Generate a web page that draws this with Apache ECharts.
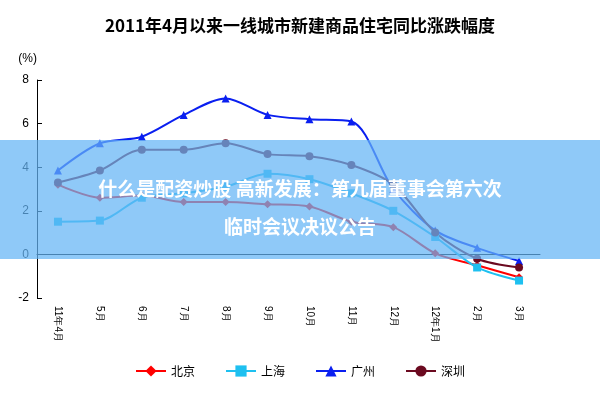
<!DOCTYPE html><html><head><meta charset="utf-8"><script src="https://cdn.jsdelivr.net/npm/echarts@6/dist/echarts.min.js"></script></head><body style="margin:0"><div id="c" style="width:600px;height:400px"></div><script>
var categories=['11年4月','5月','6月','7月','8月','9月','10月','11月','12月','12年1月','2月','3月'];
var beijing=[3.2,2.6,2.7,2.4,2.4,2.3,2.2,1.5,1.25,0.05,-0.5,-1.05];
var shanghai=[1.5,1.55,2.6,2.8,3.1,3.7,3.45,2.8,2.0,0.8,-0.6,-1.2];
var guangzhou=[3.85,5.1,5.4,6.4,7.15,6.4,6.2,6.1,3.0,1.1,0.3,-0.3];
var shenzhen=[3.3,3.85,4.8,4.8,5.1,4.6,4.5,4.1,3.2,1.0,-0.2,-0.6];
var yTicks=[-2,0,2,4,6,8];
function s(n,d,c,sym){return{name:n,type:'line',smooth:0.3,data:d,symbol:sym,symbolSize:8,lineStyle:{color:c,width:2},itemStyle:{color:c}};}
var ch=echarts.init(document.getElementById('c'));
ch.setOption({backgroundColor:'#fff',animation:false,
title:{text:'2011年4月以来一线城市新建商品住宅同比涨跌幅度',left:'center',top:12,textStyle:{fontSize:17,fontWeight:'bold',color:'#000',fontFamily:'Noto Sans CJK SC'}},
grid:{left:37,right:60,top:80,bottom:102},
legend:{bottom:18,itemGap:30,itemWidth:30,textStyle:{fontSize:12,color:'#000',fontFamily:'Noto Sans CJK SC'},data:['北京','上海','广州','深圳']},
xAxis:{type:'category',data:categories,axisLine:{onZero:true,lineStyle:{color:'#000'}},axisTick:{inside:false},axisLabel:{rotate:-90,color:'#000',fontSize:10,margin:8,interval:0}},
yAxis:{type:'value',min:yTicks[0],max:yTicks[yTicks.length-1],interval:2,name:'(%)',nameTextStyle:{color:'#000',align:'right'},axisLine:{show:true,lineStyle:{color:'#000'}},axisTick:{show:true,inside:true},splitLine:{show:false},axisLabel:{color:'#000'}},
series:[s('北京',beijing,'#ff0000','diamond'),s('上海',shanghai,'#1ec0f0','rect'),s('广州',guangzhou,'#0a1ff0','triangle'),s('深圳',shenzhen,'#6b0a20','circle')],
graphic:[{type:'rect',left:0,top:140,shape:{width:600,height:119},style:{fill:'rgba(100,180,245,0.72)'},z:100},
{type:'text',x:300,y:170,style:{text:'什么是配资炒股 高新发展：第九届董事会第六次\n临时会议决议公告',fill:'#fff',font:'bold 19px "Noto Sans CJK SC"',textAlign:'center',align:'center',lineHeight:38},z:101}]
});
</script></body></html>
